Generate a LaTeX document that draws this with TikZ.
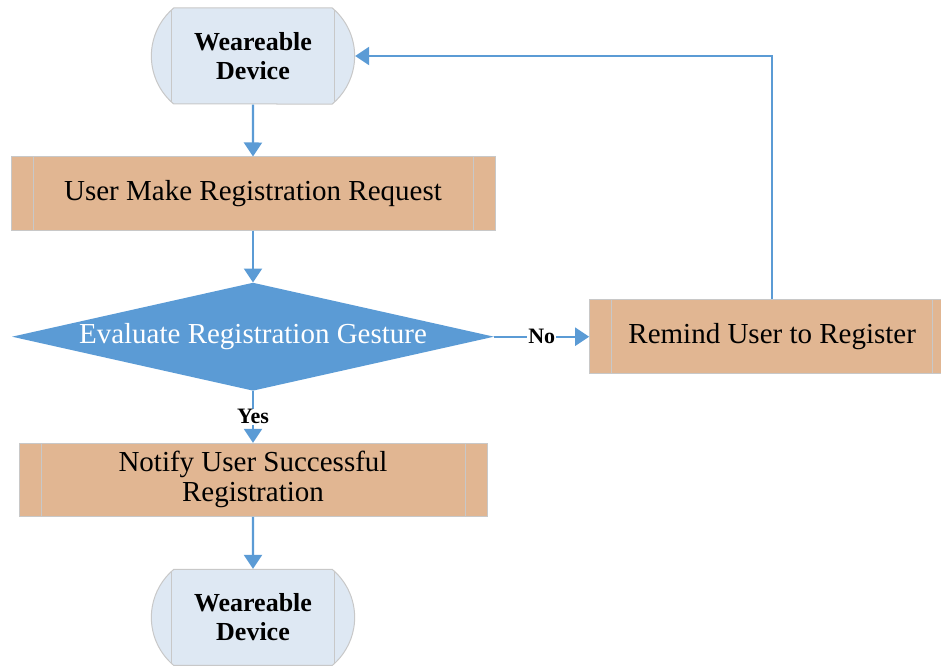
\documentclass[tikz,border=0pt]{standalone}
\usepackage{fontspec}
\setmainfont{Liberation Serif}
\usetikzlibrary{arrows.meta,positioning,shapes.geometric,shapes.misc}

\definecolor{procfill}{RGB}{225,182,146}
\definecolor{termfill}{RGB}{222,232,243}
\definecolor{flowblue}{RGB}{91,155,213}
\definecolor{edgegray}{RGB}{200,200,200}

\tikzset{
  sidebars/.style={path picture={
      \draw[edgegray,line width=1pt]
        ([xshift=#1]path picture bounding box.north west) -- ([xshift=#1]path picture bounding box.south west)
        ([xshift=-#1]path picture bounding box.north east) -- ([xshift=-#1]path picture bounding box.south east);}},
  terminal/.style={rounded rectangle,rounded rectangle arc length=100,draw=edgegray,line width=1pt,
    fill=termfill,minimum width=210pt,minimum height=96pt,align=center,
    font=\fontsize{26}{29}\selectfont\bfseries,sidebars=23pt},
  process/.style={rectangle,draw=edgegray,line width=1pt,fill=procfill,minimum height=73pt,
    align=center,font=\fontsize{29}{30}\selectfont,sidebars=22pt},
  decision/.style={diamond,fill=flowblue,text=white,inner sep=0pt,shape aspect=4.46,
    minimum width=482pt,minimum height=108pt,font=\fontsize{29}{30}\selectfont},
  answer/.style={fill=white,text=black,inner sep=1pt,font=\fontsize{22}{24}\selectfont\bfseries},
  flow/.style={draw=flowblue,line width=2.2pt,-{Triangle[length=14pt,width=18pt]}}
}

\begin{document}
\begin{tikzpicture}[node distance=52pt]
  \useasboundingbox (0pt,0pt) rectangle (941pt,-668pt);

  \node[terminal] (dev1) at (253pt,-56pt) {Weareable\\Device};
  \node[process,minimum width=484pt] (req) [below=of dev1] {User Make Registration Request};
  \node[decision] (eval) [below=of req] {Evaluate Registration Gesture};
  \node[process,minimum width=468pt] (notify) [below=of eval] {Notify User Successful\\Registration};
  \node[terminal] (dev2) [below=of notify] {Weareable\\Device};
  \node[process,minimum width=365pt,minimum height=74pt] (remind) [right=95pt of eval] {Remind User to Register};

  \draw[flow] (dev1) -- (req);
  \draw[flow] (req) -- (eval);
  \draw[flow] (eval) -- node[answer] {Yes} (notify);
  \draw[flow] (eval) -- node[answer] {No} (remind);
  \draw[flow] (notify) -- (dev2);
  \draw[flow] (remind.north) |- (dev1.east);
\end{tikzpicture}
\end{document}
